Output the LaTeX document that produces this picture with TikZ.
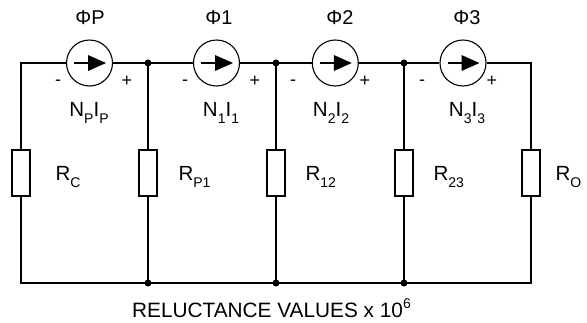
\documentclass[tikz,border=0pt]{standalone}
\usepackage{fontspec}
\setmainfont{Liberation Sans}
\newcommand\sbs[1]{\raisebox{-7.5pt}{\fontsize{14}{14}\selectfont #1}}
\newcommand\sps[1]{\raisebox{9pt}{\fontsize{14}{14}\selectfont #1}}
\begin{document}
\begin{tikzpicture}[x=1pt,y=-1pt, line width=1.1pt, line join=miter,
  src/.style={circle, draw, minimum size=46pt, inner sep=0pt},
  res/.style={rectangle, draw, minimum width=18pt, minimum height=46pt, inner sep=0pt},
  dot/.style={circle, fill, inner sep=0pt, minimum size=7pt},
  lbl/.style={font=\fontsize{20.5}{22}\selectfont, inner sep=0pt},
  flx/.style={font=\fontsize{20}{22}\selectfont, inner sep=0pt},
  sgn/.style={font=\fontsize{18}{20}\selectfont, inner sep=0pt}]
\useasboundingbox (0,0) rectangle (587,322);
% corners
\coordinate (TL) at (21,63);
\coordinate (TR) at (531,63);
\coordinate (BL) at (21,283);
\coordinate (BR) at (531,283);
% junctions
\node[dot] (J1t) at (148,63) {};
\node[dot] (J2t) at (276,63) {};
\node[dot] (J3t) at (404,63) {};
\node[dot] (J1b) at (148,283) {};
\node[dot] (J2b) at (276,283) {};
\node[dot] (J3b) at (404,283) {};
% sources
\node[src] (SP) at (89.5,63) {};
\node[src] (S1) at (216.5,63) {};
\node[src] (S2) at (335.3,63) {};
\node[src] (S3) at (463,63) {};
% resistors
\node[res] (RC) at (21,173) {};
\node[res] (RP1) at (148,173) {};
\node[res] (R12) at (276,173) {};
\node[res] (R23) at (404,173) {};
\node[res] (RO) at (531,173) {};
% wires
\draw (RC.north) -- (TL) -- (SP.west);
\draw (SP.east) -- (J1t.center) -- (S1.west);
\draw (S1.east) -- (J2t.center) -- (S2.west);
\draw (S2.east) -- (J3t.center) -- (S3.west);
\draw (S3.east) -- (TR) -- (RO.north);
\draw (J1t.center) -- (RP1.north);
\draw (J2t.center) -- (R12.north);
\draw (J3t.center) -- (R23.north);
\draw (RC.south) -- (BL) -- (J1b.center) -- (J2b.center) -- (J3b.center) -- (BR) -- (RO.south);
\draw (RP1.south) -- (J1b.center);
\draw (R12.south) -- (J2b.center);
\draw (R23.south) -- (J3b.center);
% arrows inside sources
\foreach \s in {SP,S1,S2,S3}{
  \draw ([xshift=-15.5pt]\s.center) -- ([xshift=0pt]\s.center);
  \fill ([xshift=-1.5pt,yshift=8pt]\s.center) -- ([xshift=16.5pt]\s.center) -- ([xshift=-1.5pt,yshift=-8pt]\s.center) -- cycle;
}
% flux labels
\node[flx] (fP) at (90,18) {ΦP};
\node[flx] (f1) at (219,18) {Φ1};
\node[flx] (f2) at (340,18) {Φ2};
\node[flx] (f3) at (467,18) {Φ3};
% signs
\node[sgn] (mP) at (58,83) {-};
\node[sgn] (pP) at (127,81) {+};
\node[sgn] (m1) at (185,83) {-};
\node[sgn] (p1) at (255,81) {+};
\node[sgn] (m2) at (293,83) {-};
\node[sgn] (p2) at (365,81) {+};
\node[sgn] (m3) at (422,83) {-};
\node[sgn] (p3) at (492,81) {+};
% mmf labels
\node[lbl, anchor=base] (nP) at (89,116) {N\sbs{P}I\sbs{P}};
\node[lbl, anchor=base] (n1) at (221,116) {N\sbs{1}I\sbs{1}};
\node[lbl, anchor=base] (n2) at (331,116) {N\sbs{2}I\sbs{2}};
\node[lbl, anchor=base] (n3) at (467,116) {N\sbs{3}I\sbs{3}};
% resistor labels
\node[lbl, anchor=base west] (lC) at (55,180) {R\sbs{C}};
\node[lbl, anchor=base west] (lP1) at (178,180) {R\sbs{P1}};
\node[lbl, anchor=base west] (l12) at (305,180) {R\sbs{12}};
\node[lbl, anchor=base west] (l23) at (433,180) {R\sbs{23}};
\node[lbl, anchor=base west] (lO) at (555,180) {R\sbs{O}};
% caption
\node[font=\fontsize{20.8}{22}\selectfont, inner sep=0pt, anchor=base] (cap) at (271.5,317) {RELUCTANCE VALUES x 10\sps{6}};
\end{tikzpicture}
\end{document}
